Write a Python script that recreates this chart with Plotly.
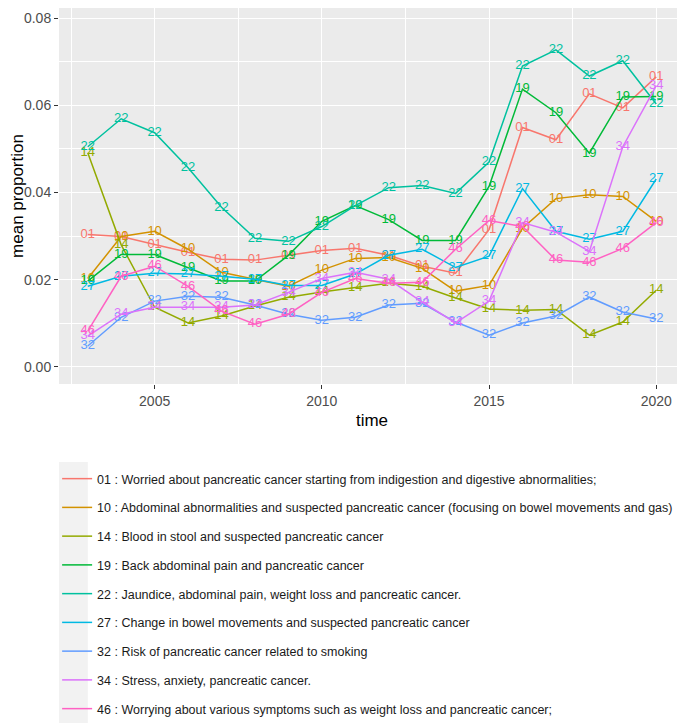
import plotly.graph_objects as go

years = list(range(2003, 2021))

topic_ids = ["01", "10", "14", "19", "22", "27", "32", "34", "46"]
topic_names = [
    "Worried about pancreatic cancer starting from indigestion and digestive abnormalities;",
    "Abdominal abnormalities and suspected pancreatic cancer (focusing on bowel movements and gas)",
    "Blood in stool and suspected pancreatic cancer",
    "Back abdominal pain and pancreatic cancer",
    "Jaundice, abdominal pain, weight loss and pancreatic cancer.",
    "Change in bowel movements and suspected pancreatic cancer",
    "Risk of pancreatic cancer related to smoking",
    "Stress, anxiety, pancreatic cancer.",
    "Worrying about various symptoms such as weight loss and pancreatic cancer;",
]
colors = ["#F8766D", "#D39200", "#93AA00", "#00BA38", "#00C19F", "#00B9E3", "#619CFF", "#DB72FB", "#FF61C3"]

t01 = [0.0304, 0.0299, 0.0281, 0.0263, 0.0247, 0.0245, 0.0256, 0.0267, 0.0272, 0.0256, 0.0231, 0.0215, 0.0315, 0.0549, 0.0521, 0.0626, 0.0594, 0.0665]
t10 = [0.0203, 0.0299, 0.0311, 0.0270, 0.0217, 0.0201, 0.0185, 0.0222, 0.0249, 0.0251, 0.0226, 0.0174, 0.0187, 0.0318, 0.0386, 0.0395, 0.0391, 0.0334]
t14 = [0.0491, 0.0280, 0.0137, 0.0101, 0.0117, 0.0140, 0.0160, 0.0172, 0.0182, 0.0192, 0.0185, 0.0158, 0.0133, 0.0130, 0.0132, 0.0073, 0.0103, 0.0176]
t19 = [0.0197, 0.0258, 0.0258, 0.0228, 0.0197, 0.0197, 0.0256, 0.0334, 0.0370, 0.0338, 0.0290, 0.0290, 0.0414, 0.0637, 0.0583, 0.0490, 0.0619, 0.0620]
t22 = [0.0505, 0.0569, 0.0537, 0.0457, 0.0366, 0.0295, 0.0288, 0.0322, 0.0370, 0.0411, 0.0416, 0.0398, 0.0470, 0.0690, 0.0727, 0.0667, 0.0702, 0.0603]
t27 = [0.0185, 0.0208, 0.0215, 0.0213, 0.0208, 0.0201, 0.0187, 0.0187, 0.0213, 0.0256, 0.0270, 0.0228, 0.0254, 0.0409, 0.0311, 0.0293, 0.0311, 0.0431]
t32 = [0.0048, 0.0114, 0.0151, 0.0162, 0.0160, 0.0142, 0.0121, 0.0107, 0.0114, 0.0142, 0.0146, 0.0103, 0.0073, 0.0101, 0.0117, 0.0160, 0.0126, 0.0110]
t34 = [0.0071, 0.0121, 0.0137, 0.0137, 0.0137, 0.0142, 0.0171, 0.0203, 0.0217, 0.0201, 0.0149, 0.0101, 0.0151, 0.0331, 0.0309, 0.0265, 0.0505, 0.0645]
t46 = [0.0082, 0.0208, 0.0231, 0.0185, 0.0128, 0.0098, 0.0121, 0.0171, 0.0203, 0.0192, 0.0194, 0.0270, 0.0336, 0.0322, 0.0245, 0.0240, 0.0272, 0.0331]

series = [t01, t10, t14, t19, t22, t27, t32, t34, t46]

FONT = "Liberation Sans, Arial, sans-serif"

fig = go.Figure()
for tid, name, col, vals in zip(topic_ids, topic_names, colors, series):
    fig.add_trace(go.Scatter(
        x=years, y=vals, mode="lines+text", text=[tid] * len(years),
        textposition="middle center", textfont=dict(color=col, size=13, family=FONT),
        line=dict(color=col, width=1.5), name=f"{tid} : {name}",
        legendgroup=tid, cliponaxis=False,
    ))

# page body has an 8px margin, so the figure is a bit smaller than the window
fig.update_layout(
    width=677, height=715,
    paper_bgcolor="white", plot_bgcolor="#EBEBEB",
    font=dict(family=FONT, size=13, color="#1A1A1A"),
    margin=dict(l=51, r=0, t=0, b=339, autoexpand=False),
    showlegend=True,
    legend=dict(x=-0.003, xanchor="left", y=-0.2128, yanchor="top", bgcolor="rgba(0,0,0,0)",
                tracegroupgap=9.5, font=dict(size=12.5, color="#1A1A1A")),
)
# grey strip behind the legend keys, as ggplot draws it
fig.add_shape(type="rect", xref="paper", yref="paper", x0=0.0, x1=0.046, y0=-0.9016, y1=-0.2074,
              fillcolor="#F2F2F2", line=dict(width=0), layer="below")
fig.update_xaxes(
    range=[2002.14, 2020.86], tickvals=[2005, 2010, 2015, 2020], showgrid=True, gridcolor="white",
    gridwidth=1.2, zeroline=False, ticks="outside", ticklen=4, tickcolor="#333333", automargin=False,
    tickfont=dict(size=14, color="#4D4D4D"),
    minor=dict(tickvals=[2002.5, 2007.5, 2012.5, 2017.5], showgrid=True, gridcolor="white", gridwidth=0.6, ticks=""),
    title=dict(text="time", font=dict(size=17, color="black"), standoff=6),
)
fig.update_yaxes(
    range=[-0.0039, 0.0823], tickvals=[0, 0.02, 0.04, 0.06, 0.08], tickformat=".2f", showgrid=True,
    gridcolor="white", gridwidth=1.2, zeroline=False, ticks="outside", ticklen=4, tickcolor="#333333",
    automargin=False, tickfont=dict(size=14, color="#4D4D4D"),
    minor=dict(tickvals=[0.01, 0.03, 0.05, 0.07], showgrid=True, gridcolor="white", gridwidth=0.6, ticks=""),
    title=dict(text="mean proportion", font=dict(size=17, color="black"), standoff=10),
)

fig.write_html("out.html")
